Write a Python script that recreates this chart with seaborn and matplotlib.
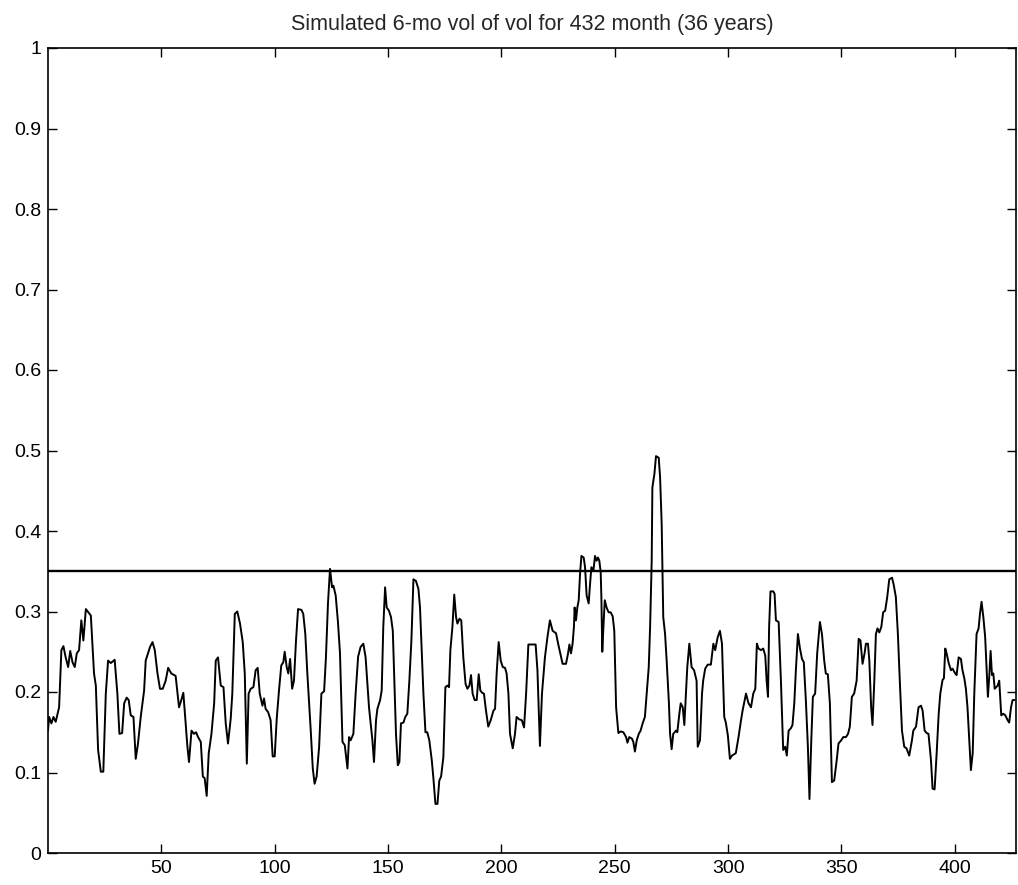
import matplotlib
matplotlib.use("Agg")
import matplotlib.pyplot as plt
import seaborn as sns
import pandas as pd

# ---- data ----
months = [
    0, 0.5, 1.5, 2.4, 3.4, 4.9, 5.9, 6.8, 7.8, 8.9, 9.8, 10.8, 11.8, 12.7, 13.7, 14.7, 15.6, 16.7, 18.9, 20.3,
    21.1, 22.1, 23.3, 24.4, 25.5, 26.5, 27.7, 29.4, 30.6, 31.5, 32.7, 33.6, 34.7, 35.6, 36.5, 37.7, 38.7, 39.7, 40.9, 42.4,
    43.1, 44.1, 45.0, 46.1, 47.1, 48.3, 49.4, 50.6, 51.9, 53.0, 54.4, 56.3, 57.8, 58.8, 59.7, 60.8, 61.5, 62.2, 63.3, 64.4,
    65.3, 66.2, 67.4, 68.3, 69.1, 70.0, 70.9, 72.1, 73.3, 74.0, 75.0, 76.2, 77.4, 78.4, 79.4, 80.6, 81.3, 82.4, 83.5, 84.7,
    85.9, 86.8, 87.7, 88.5, 89.4, 90.6, 91.6, 92.5, 93.4, 94.6, 95.3, 96.0, 97.1, 98.2, 99.1, 100.0, 100.9, 101.9, 102.9, 103.8,
    104.4, 105.3, 106.0, 106.8, 107.7, 108.5, 109.4, 110.3, 111.8, 112.6, 113.5, 114.4, 115.9, 116.8, 117.6, 118.5, 119.6, 120.6, 121.8, 122.6,
    123.5, 124.4, 125.3, 125.9, 126.9, 127.9, 128.8, 129.9, 130.9, 132.1, 132.8, 133.5, 134.7, 135.7, 136.8, 137.9, 139.1, 140.1, 141.6, 143.1,
    143.8, 144.7, 145.3, 146.5, 147.2, 147.9, 148.7, 149.4, 150.4, 151.3, 152.1, 152.6, 153.5, 154.3, 155.0, 155.7, 156.8, 157.6, 158.5, 159.4,
    160.3, 161.2, 162.3, 163.4, 164.1, 164.8, 165.6, 166.5, 167.3, 168.2, 169.3, 170.0, 170.9, 171.8, 172.6, 173.4, 174.4, 175.3, 176.2, 176.9,
    177.5, 178.4, 179.2, 180.0, 180.6, 181.5, 182.3, 183.2, 184.2, 185.0, 185.9, 186.6, 187.3, 188.2, 189.1, 190.0, 190.7, 191.5, 192.3, 193.2,
    194.2, 195.3, 196.5, 197.2, 197.9, 198.8, 199.7, 200.6, 201.6, 202.3, 203.1, 203.8, 205.0, 206.0, 206.7, 207.9, 209.0, 210.0, 210.9, 211.9,
    212.9, 214.1, 215.1, 215.9, 216.7, 217.0, 217.9, 219.2, 220.3, 221.4, 222.6, 224.1, 225.1, 226.2, 227.0, 228.5, 229.4, 230.0, 230.7, 231.4,
    232.0, 232.3, 232.9, 233.5, 234.1, 234.7, 235.3, 236.3, 236.9, 237.6, 238.5, 239.1, 239.7, 240.6, 241.3, 242.0, 242.6, 243.2, 243.8, 244.1,
    244.5, 245.0, 245.6, 246.4, 247.3, 248.2, 249.1, 249.8, 250.6, 251.6, 252.6, 253.8, 255.0, 255.6, 256.4, 257.6, 258.2, 258.9, 259.7, 260.6,
    261.4, 262.3, 263.3, 264.2, 265.0, 265.6, 266.3, 266.6, 267.5, 268.2, 269.4, 270.0, 270.7, 271.4, 272.2, 272.9, 273.9, 274.4, 275.1, 275.8,
    277.0, 277.6, 278.5, 279.1, 280.0, 280.7, 281.4, 282.0, 282.9, 283.9, 285.0, 286.1, 286.6, 287.6, 288.5, 289.0, 289.9, 291.0, 292.4, 293.5,
    294.3, 295.4, 296.4, 297.3, 298.3, 299.0, 299.9, 300.8, 301.7, 303.4, 304.6, 305.7, 306.4, 307.9, 309.0, 310.1, 311.1, 312.0, 312.7, 313.4,
    314.5, 315.5, 316.4, 317.0, 317.6, 318.1, 318.7, 319.9, 320.5, 321.1, 322.3, 323.3, 324.3, 325.2, 325.9, 326.7, 327.7, 328.4, 329.2, 329.9,
    330.8, 331.7, 332.6, 333.4, 334.3, 335.2, 335.9, 336.7, 337.4, 338.4, 339.3, 340.5, 341.4, 342.4, 343.1, 344.0, 344.9, 345.8, 346.8, 347.9,
    348.7, 349.9, 350.8, 352.0, 352.9, 353.7, 354.6, 355.6, 356.7, 357.6, 358.4, 359.3, 360.2, 360.8, 361.7, 362.3, 363.1, 363.7, 364.5, 365.2,
    365.9, 366.7, 367.6, 368.4, 369.3, 370.2, 371.1, 372.3, 373.0, 374.0, 374.9, 375.8, 376.7, 377.7, 378.7, 379.9, 381.1, 381.7, 382.9, 384.0,
    385.1, 385.8, 386.7, 387.6, 388.4, 389.5, 390.2, 391.1, 392.0, 392.9, 393.6, 394.6, 395.2, 395.8, 396.4, 397.3, 398.3, 399.0, 400.2, 400.8,
    401.7, 402.7, 403.4, 404.2, 404.9, 405.6, 406.4, 407.1, 407.9, 408.6, 409.6, 410.5, 411.1, 411.8, 412.6, 413.4, 414.0, 414.6, 415.2, 415.8,
    416.4, 417.0, 417.6, 418.9, 419.6, 420.5, 421.4, 422.3, 423.3, 424.0, 424.8, 425.5, 426.4,
]
vol_of_vol = [
    0.152, 0.169, 0.161, 0.169, 0.163, 0.181, 0.252, 0.257, 0.243, 0.231, 0.251, 0.237, 0.231, 0.248, 0.252, 0.289, 0.264, 0.303, 0.295, 0.223,
    0.208, 0.128, 0.101, 0.101, 0.198, 0.239, 0.236, 0.240, 0.198, 0.148, 0.149, 0.186, 0.193, 0.190, 0.171, 0.169, 0.117, 0.136, 0.169, 0.202,
    0.239, 0.248, 0.256, 0.262, 0.252, 0.223, 0.204, 0.204, 0.214, 0.230, 0.223, 0.220, 0.181, 0.190, 0.199, 0.157, 0.132, 0.113, 0.152, 0.148,
    0.150, 0.144, 0.138, 0.095, 0.093, 0.071, 0.124, 0.148, 0.186, 0.239, 0.243, 0.208, 0.206, 0.161, 0.136, 0.167, 0.198, 0.297, 0.300, 0.285,
    0.262, 0.223, 0.111, 0.198, 0.204, 0.206, 0.227, 0.230, 0.198, 0.183, 0.192, 0.179, 0.175, 0.165, 0.120, 0.120, 0.167, 0.202, 0.233, 0.237,
    0.250, 0.231, 0.223, 0.241, 0.204, 0.214, 0.264, 0.303, 0.302, 0.297, 0.272, 0.223, 0.152, 0.105, 0.086, 0.095, 0.132, 0.198, 0.201, 0.243,
    0.310, 0.353, 0.330, 0.332, 0.320, 0.287, 0.248, 0.138, 0.134, 0.105, 0.144, 0.140, 0.148, 0.198, 0.244, 0.256, 0.260, 0.243, 0.181, 0.140,
    0.113, 0.165, 0.179, 0.190, 0.202, 0.281, 0.330, 0.305, 0.301, 0.293, 0.276, 0.231, 0.148, 0.109, 0.113, 0.161, 0.162, 0.169, 0.173, 0.214,
    0.264, 0.340, 0.338, 0.328, 0.305, 0.256, 0.198, 0.150, 0.150, 0.140, 0.115, 0.093, 0.061, 0.061, 0.090, 0.095, 0.119, 0.206, 0.208, 0.206,
    0.252, 0.281, 0.321, 0.293, 0.285, 0.291, 0.289, 0.243, 0.210, 0.204, 0.208, 0.221, 0.198, 0.190, 0.190, 0.222, 0.202, 0.199, 0.198, 0.177,
    0.157, 0.165, 0.177, 0.179, 0.223, 0.262, 0.239, 0.231, 0.230, 0.223, 0.198, 0.148, 0.130, 0.148, 0.169, 0.166, 0.165, 0.156, 0.198, 0.259,
    0.259, 0.259, 0.259, 0.227, 0.161, 0.133, 0.198, 0.243, 0.268, 0.289, 0.276, 0.273, 0.259, 0.245, 0.235, 0.235, 0.248, 0.259, 0.248, 0.260,
    0.281, 0.305, 0.289, 0.305, 0.314, 0.347, 0.369, 0.367, 0.355, 0.320, 0.310, 0.334, 0.355, 0.351, 0.369, 0.363, 0.367, 0.363, 0.349, 0.318,
    0.250, 0.281, 0.314, 0.305, 0.299, 0.299, 0.294, 0.276, 0.181, 0.149, 0.151, 0.150, 0.144, 0.137, 0.144, 0.142, 0.138, 0.126, 0.140, 0.148,
    0.152, 0.161, 0.169, 0.202, 0.231, 0.281, 0.363, 0.454, 0.471, 0.493, 0.491, 0.467, 0.409, 0.293, 0.272, 0.239, 0.186, 0.148, 0.129, 0.148,
    0.152, 0.150, 0.173, 0.186, 0.181, 0.159, 0.198, 0.231, 0.260, 0.231, 0.227, 0.214, 0.132, 0.140, 0.198, 0.214, 0.229, 0.234, 0.234, 0.260,
    0.252, 0.268, 0.276, 0.260, 0.169, 0.162, 0.146, 0.117, 0.121, 0.124, 0.144, 0.165, 0.177, 0.198, 0.186, 0.181, 0.198, 0.204, 0.260, 0.254,
    0.252, 0.254, 0.245, 0.214, 0.194, 0.281, 0.325, 0.325, 0.322, 0.289, 0.287, 0.214, 0.128, 0.132, 0.121, 0.152, 0.155, 0.159, 0.186, 0.227,
    0.272, 0.254, 0.241, 0.237, 0.190, 0.132, 0.067, 0.140, 0.194, 0.198, 0.248, 0.287, 0.272, 0.239, 0.223, 0.222, 0.186, 0.088, 0.090, 0.115,
    0.136, 0.140, 0.144, 0.144, 0.148, 0.157, 0.194, 0.198, 0.214, 0.266, 0.264, 0.235, 0.248, 0.260, 0.260, 0.239, 0.181, 0.159, 0.214, 0.272,
    0.279, 0.274, 0.281, 0.299, 0.301, 0.318, 0.340, 0.342, 0.334, 0.318, 0.272, 0.210, 0.152, 0.132, 0.130, 0.121, 0.140, 0.152, 0.157, 0.181,
    0.183, 0.177, 0.152, 0.149, 0.148, 0.115, 0.080, 0.079, 0.124, 0.173, 0.198, 0.215, 0.217, 0.254, 0.248, 0.236, 0.227, 0.229, 0.223, 0.221,
    0.243, 0.241, 0.227, 0.217, 0.204, 0.181, 0.140, 0.103, 0.124, 0.198, 0.272, 0.279, 0.297, 0.312, 0.293, 0.268, 0.231, 0.194, 0.219, 0.251,
    0.221, 0.223, 0.204, 0.208, 0.214, 0.171, 0.173, 0.171, 0.165, 0.162, 0.181, 0.190, 0.190,
]
threshold = 0.35
x_ticks = [50, 100, 150, 200, 250, 300, 350, 400]
y_ticks = [0, 0.1, 0.2, 0.3, 0.4, 0.5, 0.6, 0.7, 0.8, 0.9, 1]
y_tick_labels = ["0", "0.1", "0.2", "0.3", "0.4", "0.5", "0.6", "0.7", "0.8", "0.9", "1"]
title = "Simulated 6-mo vol of vol for 432 month (36 years)"

# ---- plot ----
sns.set_style("ticks")
plt.rcParams["font.family"] = ["Liberation Sans", "DejaVu Sans"]

df = pd.DataFrame({"month": months, "vol": vol_of_vol})

fig = plt.figure(figsize=(10.18, 8.85), dpi=100)
ax = fig.add_axes([48 / 1018, 1 - 853 / 885, (1016 - 48) / 1018, (853 - 48) / 885])

sns.lineplot(data=df, x="month", y="vol", ax=ax, color="black", linewidth=1.4,
             estimator=None, sort=False)
ax.axhline(threshold, color="black", linewidth=1.7)

ax.set_xlim(0, 427)
ax.set_ylim(0, 1)
ax.set_xticks(x_ticks)
ax.set_xticklabels([str(t) for t in x_ticks])
ax.set_yticks(y_ticks)
ax.set_yticklabels(y_tick_labels)
ax.set_xlabel("")
ax.set_ylabel("")
ax.set_title(title, fontsize=15.5, pad=13)

for s in ax.spines.values():
    s.set_visible(True)
    s.set_color("black")
    s.set_linewidth(1.2)
ax.tick_params(direction="in", length=6.5, width=1, colors="black",
               labelsize=14, top=True, right=True, pad=5)

fig.savefig("out.png", dpi=100)
